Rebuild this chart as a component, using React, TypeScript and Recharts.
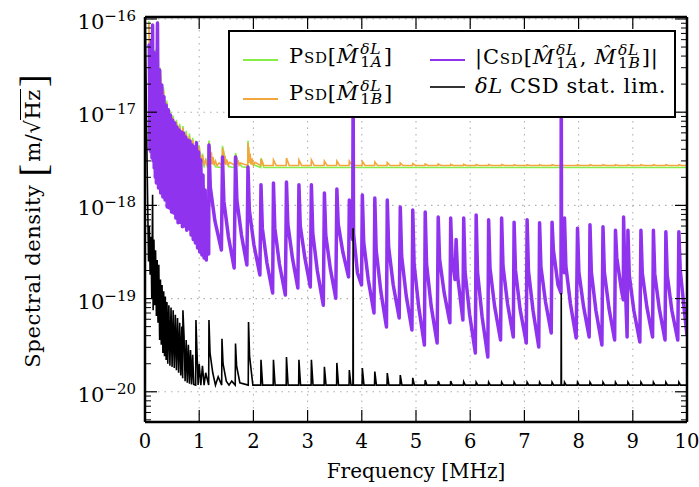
import { LineChart, Line, XAxis, YAxis, CartesianGrid } from 'recharts';

// frequency [MHz], spectral density [m/sqrt(Hz)]
const psdA = [
  [0.07, 9.5e-17], [0.08, 5.8e-17], [0.10, 3.0e-17], [0.13, 6.5e-17], [0.16, 2.7e-17], [0.19, 4.7e-17],
  [0.22, 2.4e-17], [0.235, 9.5e-17], [0.25, 2.1e-17], [0.28, 3.0e-17], [0.31, 1.45e-17], [0.34, 1.85e-17],
  [0.37, 1.0e-17], [0.40, 1.33e-17], [0.43, 7.8e-18], [0.46, 1.04e-17], [0.49, 6.5e-18], [0.52, 9.2e-18],
  [0.55, 5.7e-18], [0.58, 8.3e-18], [0.61, 5.0e-18], [0.64, 7.5e-18], [0.67, 4.6e-18], [0.70, 7.1e-18],
  [0.73, 4.1e-18], [0.76, 6.3e-18], [0.79, 3.6e-18], [0.82, 5.9e-18], [0.85, 3.2e-18], [0.88, 5.3e-18],
  [0.91, 2.6e-18], [0.94, 4.95e-18], [0.97, 2.55e-18], [1.00, 4.45e-18], [1.03, 2.55e-18], [1.06, 3.6e-18],
  [1.09, 2.55e-18], [1.12, 3.2e-18], [1.15, 2.55e-18], [1.18, 4.95e-18], [1.22, 3.4e-18], [1.30, 2.6e-18],
  [1.425, 2.55e-18], [1.43, 4.35e-18], [1.47, 3.3e-18], [1.55, 2.6e-18], [1.665, 2.55e-18], [1.67, 3.65e-18],
  [1.71, 3.0e-18], [1.79, 2.6e-18], [1.895, 2.55e-18], [1.90, 4.95e-18], [1.915, 3.4e-18], [1.96, 2.8e-18],
  [2.135, 2.55e-18], [2.14, 3.2e-18], [2.19, 2.55e-18], [10.0, 2.55e-18],
];

const psdB = [
  [0.07, 9.0e-17], [0.08, 5.5e-17], [0.10, 2.84e-17], [0.13, 6.2e-17], [0.16, 2.51e-17], [0.19, 4.4e-17],
  [0.22, 2.22e-17], [0.235, 9.06e-17], [0.25, 1.96e-17], [0.28, 2.84e-17], [0.31, 1.35e-17], [0.34, 1.73e-17],
  [0.37, 9.3e-18], [0.40, 1.26e-17], [0.43, 7.3e-18], [0.46, 9.8e-18], [0.49, 6.14e-18], [0.52, 8.7e-18],
  [0.55, 5.42e-18], [0.58, 7.85e-18], [0.61, 4.79e-18], [0.64, 7.1e-18], [0.67, 4.45e-18], [0.70, 6.76e-18],
  [0.73, 3.93e-18], [0.76, 5.98e-18], [0.79, 3.47e-18], [0.82, 5.55e-18], [0.85, 3.07e-18], [0.88, 5.03e-18],
  [0.91, 2.68e-18], [0.94, 4.68e-18], [0.97, 2.68e-18], [1.00, 4.24e-18], [1.03, 2.68e-18], [1.06, 3.47e-18],
  [1.09, 2.68e-18], [1.12, 3.07e-18], [1.15, 2.68e-18], [1.175, 2.68e-18],
  [1.18, 4.68e-18], [1.19, 3.0e-18], [1.20, 4.2e-18], [1.21, 2.8e-18], [1.225, 3.7e-18], [1.24, 2.75e-18],
  [1.255, 3.3e-18], [1.275, 2.7e-18], [1.30, 3.0e-18], [1.33, 2.68e-18], [1.37, 2.85e-18], [1.425, 2.68e-18],
  [1.43, 4.13e-18], [1.44, 2.9e-18], [1.45, 3.8e-18], [1.46, 2.8e-18], [1.475, 3.4e-18], [1.49, 2.72e-18],
  [1.51, 3.1e-18], [1.535, 2.7e-18], [1.56, 2.9e-18], [1.665, 2.68e-18],
  [1.67, 3.47e-18], [1.68, 2.85e-18], [1.69, 3.25e-18], [1.70, 2.75e-18], [1.715, 3.05e-18], [1.735, 2.7e-18],
  [1.76, 2.85e-18], [1.895, 2.68e-18],
  [1.90, 4.68e-18], [1.91, 3.0e-18], [1.915, 4.2e-18], [1.925, 2.85e-18], [1.94, 3.6e-18], [1.955, 2.75e-18],
  [1.975, 3.2e-18], [2.0, 2.7e-18], [2.03, 2.9e-18], [2.135, 2.68e-18],
  [2.14, 3.15e-18], [2.15, 2.8e-18], [2.16, 3.0e-18], [2.19, 2.68e-18],
  [2.365, 2.68e-18], [2.37, 3.07e-18], [2.42, 2.68e-18], [2.605, 2.68e-18], [2.61, 3.23e-18], [2.66, 2.68e-18],
  [2.835, 2.68e-18], [2.84, 3.07e-18], [2.89, 2.68e-18], [3.065, 2.68e-18], [3.07, 3.07e-18], [3.12, 2.68e-18],
  [3.305, 2.68e-18], [3.31, 2.99e-18], [3.36, 2.68e-18], [3.535, 2.68e-18], [3.54, 2.99e-18], [3.59, 2.68e-18],
  [3.765, 2.68e-18], [3.77, 2.99e-18], [3.82, 2.68e-18], [3.835, 2.68e-18], [3.84, 3.03e-18], [3.87, 2.68e-18],
  [4.005, 2.68e-18], [4.01, 2.96e-18], [4.06, 2.68e-18], [4.235, 2.68e-18], [4.24, 2.92e-18], [4.29, 2.68e-18],
  [4.465, 2.68e-18], [4.47, 2.88e-18], [4.52, 2.68e-18], [4.705, 2.68e-18], [4.71, 2.85e-18], [4.76, 2.68e-18],
  [4.935, 2.68e-18], [4.94, 2.81e-18], [4.99, 2.68e-18], [5.165, 2.68e-18], [5.17, 2.78e-18], [5.22, 2.68e-18],
  [5.405, 2.68e-18], [5.41, 2.78e-18], [5.46, 2.68e-18], [5.635, 2.68e-18], [5.64, 2.75e-18], [5.69, 2.68e-18],
  [5.875, 2.68e-18], [5.88, 2.75e-18], [5.93, 2.68e-18], [6.105, 2.68e-18], [6.11, 2.74e-18], [6.16, 2.68e-18],
  [6.335, 2.68e-18], [6.34, 2.74e-18], [6.39, 2.68e-18], [6.575, 2.68e-18], [6.58, 2.74e-18], [6.63, 2.68e-18],
  [6.805, 2.68e-18], [6.81, 2.73e-18], [6.86, 2.68e-18], [7.045, 2.68e-18], [7.05, 2.73e-18], [7.10, 2.68e-18],
  [7.275, 2.68e-18], [7.28, 2.73e-18], [7.33, 2.68e-18], [7.505, 2.68e-18], [7.51, 2.73e-18], [7.56, 2.68e-18],
  [7.675, 2.68e-18], [7.68, 2.78e-18], [7.72, 2.68e-18], [7.975, 2.68e-18], [7.98, 2.73e-18], [8.03, 2.68e-18],
  [8.205, 2.68e-18], [8.21, 2.73e-18], [8.26, 2.68e-18], [8.445, 2.68e-18], [8.45, 2.73e-18], [8.50, 2.68e-18],
  [8.675, 2.68e-18], [8.68, 2.73e-18], [8.73, 2.68e-18], [8.905, 2.68e-18], [8.91, 2.73e-18], [8.96, 2.68e-18],
  [9.145, 2.68e-18], [9.15, 2.73e-18], [9.20, 2.68e-18], [9.375, 2.68e-18], [9.38, 2.73e-18], [9.43, 2.68e-18],
  [9.605, 2.68e-18], [9.61, 2.73e-18], [9.66, 2.68e-18], [9.845, 2.68e-18], [9.85, 2.73e-18], [9.90, 2.68e-18],
  [10.0, 2.68e-18],
];

const csdAB = [
  [0.07, 5.0e-17], [0.08, 5.26e-17], [0.09, 3.93e-18], [0.10, 4.65e-17], [0.11, 3.74e-18], [0.12, 5.96e-17],
  [0.13, 3.23e-18], [0.14, 8.6e-17], [0.15, 3.0e-18], [0.16, 4.4e-17], [0.17, 2.52e-18], [0.18, 4.11e-17],
  [0.19, 2.0e-18], [0.20, 3.7e-17], [0.21, 1.74e-18], [0.225, 4.0e-17], [0.23, 9.06e-17], [0.235, 3.0e-17],
  [0.25, 1.54e-18], [0.27, 2.84e-17], [0.29, 1.36e-18], [0.31, 1.96e-17], [0.33, 1.23e-18], [0.35, 1.46e-17],
  [0.37, 1.14e-18], [0.39, 1.19e-17], [0.41, 9.6e-19], [0.43, 1.06e-17], [0.45, 9.4e-19], [0.47, 9.3e-18],
  [0.49, 8.5e-19], [0.51, 8.2e-18], [0.53, 8.3e-19], [0.55, 7.66e-18], [0.57, 7.3e-19], [0.59, 6.93e-18],
  [0.61, 6.5e-19], [0.63, 6.44e-18], [0.65, 6.6e-19], [0.67, 6.14e-18], [0.69, 5.9e-19], [0.71, 5.98e-18],
  [0.73, 6.0e-19], [0.75, 5.42e-18], [0.77, 5.4e-19], [0.79, 5.03e-18], [0.81, 5.6e-19], [0.83, 4.91e-18],
  [0.85, 4.8e-19], [0.87, 4.45e-18], [0.89, 4.3e-19], [0.91, 4.24e-18], [0.93, 3.95e-19], [0.95, 4.7e-18],
  [0.97, 3.49e-19], [0.99, 3.74e-18], [1.01, 3.16e-19], [1.03, 3.07e-18], [1.05, 2.94e-19], [1.07, 2.12e-18],
  [1.09, 2.73e-19], [1.11, 1.46e-18], [1.13, 2.59e-19], [1.155, 6.0e-19], [1.175, 3.0e-19],
  [1.18, 4.45e-18], [1.205, 1.57e-18], [1.29, 6.8e-19], [1.41, 3.32e-19],
  [1.43, 3.3e-18], [1.455, 1.11e-18], [1.54, 4.58e-19], [1.645, 2.13e-19],
  [1.67, 3.3e-18], [1.695, 1.14e-18], [1.78, 4.8e-19], [1.88, 2.29e-19],
  [1.90, 2.58e-18], [1.925, 8.9e-19], [2.01, 3.76e-19], [2.12, 1.79e-19],
  [2.14, 1.66e-18], [2.165, 5.7e-19], [2.25, 2.41e-19], [2.355, 1.15e-19],
  [2.37, 1.74e-18], [2.395, 5.7e-19], [2.48, 2.35e-19], [2.59, 1.09e-19],
  [2.61, 1.78e-18], [2.635, 6.3e-19], [2.72, 2.73e-19], [2.82, 1.30e-19],
  [2.84, 1.66e-18], [2.865, 6.0e-19], [2.95, 2.73e-19], [3.05, 1.33e-19],
  [3.07, 1.66e-18], [3.095, 5.06e-19], [3.18, 1.98e-19], [3.29, 8.5e-20],
  [3.31, 1.36e-18], [3.335, 4.8e-19], [3.42, 2.08e-19], [3.52, 1.01e-19],
  [3.54, 1.50e-18], [3.565, 6.3e-19], [3.65, 3.16e-19], [3.755, 1.71e-19],
  [3.77, 1.14e-18], [3.795, 6.2e-19], [3.832, 4.3e-19], [3.84, 2.0e-17], [3.848, 5.0e-19], [3.92, 1.88e-19],
  [3.995, 1.40e-19],
  [4.01, 1.29e-18], [4.035, 4.05e-19], [4.12, 1.58e-19], [4.225, 7.0e-20],
  [4.24, 1.20e-18], [4.265, 3.32e-19], [4.35, 1.21e-19], [4.455, 4.95e-20],
  [4.47, 1.14e-18], [4.495, 3.58e-19], [4.58, 1.40e-19], [4.69, 6.2e-20],
  [4.71, 9.6e-19], [4.735, 2.86e-19], [4.82, 1.07e-19], [4.925, 4.6e-20],
  [4.94, 8.9e-19], [4.965, 2.35e-19], [5.05, 8.1e-20], [5.155, 3.18e-20],
  [5.17, 8.5e-19], [5.195, 2.35e-19], [5.28, 8.3e-20], [5.39, 3.34e-20],
  [5.41, 7.5e-19], [5.435, 2.66e-19], [5.52, 1.15e-19], [5.625, 5.5e-20],
  [5.64, 7.3e-19], [5.665, 2.66e-19], [5.72, 1.6e-19], [5.74, 4.3e-19], [5.77, 1.7e-19], [5.865, 5.9e-20],
  [5.88, 7.3e-19], [5.905, 1.93e-19], [5.99, 6.7e-20], [6.095, 2.61e-20],
  [6.11, 7.9e-19], [6.135, 1.93e-19], [6.22, 6.35e-20], [6.325, 2.36e-20],
  [6.34, 7.0e-19], [6.365, 2.13e-19], [6.45, 8.3e-20], [6.56, 3.59e-20],
  [6.58, 7.3e-19], [6.605, 2.24e-19], [6.69, 8.75e-20], [6.795, 3.87e-20],
  [6.81, 6.6e-19], [6.835, 2.03e-19], [6.92, 7.7e-20], [7.035, 3.34e-20],
  [7.05, 7.0e-19], [7.075, 1.98e-19], [7.16, 7.4e-20], [7.265, 3.03e-20],
  [7.28, 6.5e-19], [7.305, 2.18e-19], [7.39, 9.2e-20], [7.495, 4.27e-20],
  [7.51, 6.6e-19], [7.535, 3.32e-19], [7.62, 1.40e-19], [7.675, 1.15e-19], [7.68, 3.0e-17], [7.686, 2.59e-19],
  [7.735, 1.9e-19],
  [7.74, 7.3e-19], [7.765, 2.24e-19], [7.85, 8.75e-20], [7.955, 3.77e-20],
  [7.98, 5.7e-19], [8.005, 1.93e-19], [8.09, 8.3e-20], [8.195, 3.87e-20],
  [8.21, 6.2e-19], [8.235, 1.93e-19], [8.32, 7.4e-20], [8.43, 3.18e-20],
  [8.45, 5.9e-19], [8.475, 1.93e-19], [8.56, 7.9e-20], [8.665, 3.59e-20],
  [8.68, 5.4e-19], [8.705, 2.73e-19], [8.79, 1.24e-19], [8.825, 9.7e-20], [8.83, 7.5e-19], [8.85, 2.29e-19],
  [8.895, 3.87e-20],
  [8.91, 5.4e-19], [8.935, 1.79e-19], [9.02, 7.4e-20], [9.13, 3.42e-20],
  [9.15, 5.4e-19], [9.175, 1.88e-19], [9.26, 8.1e-20], [9.365, 3.87e-20],
  [9.38, 5.4e-19], [9.405, 1.84e-19], [9.49, 7.7e-20], [9.595, 3.59e-20],
  [9.61, 5.2e-19], [9.635, 1.79e-19], [9.72, 7.5e-20], [9.83, 3.59e-20],
  [9.85, 5.2e-19], [9.875, 2.03e-19], [9.95, 7.5e-20], [10.0, 4.07e-20],
];

const statLim = [
  [0.005, 1.0e-16], [0.02, 2.0e-17], [0.035, 4.0e-18], [0.05, 1.0e-18], [0.065, 2.5e-19], [0.08, 6.0e-19],
  [0.095, 1.8e-19], [0.11, 4.6e-19], [0.125, 1.0e-19], [0.14, 1.3e-18], [0.15, 7.5e-20], [0.165, 4.3e-19],
  [0.18, 8.5e-20], [0.195, 3.3e-19], [0.21, 6.5e-20], [0.225, 2.6e-19], [0.24, 5.5e-20], [0.255, 2.3e-19],
  [0.27, 3.6e-20], [0.285, 1.6e-19], [0.30, 3.2e-20], [0.315, 1.4e-19], [0.33, 2.6e-20], [0.345, 1.2e-19],
  [0.36, 2.4e-20], [0.375, 1.05e-19], [0.39, 2.2e-20], [0.405, 9.2e-20], [0.42, 2.0e-20], [0.44, 8.5e-20],
  [0.46, 1.9e-20], [0.48, 8.0e-20], [0.50, 1.85e-20], [0.52, 7.5e-20], [0.54, 1.8e-20], [0.56, 6.7e-20],
  [0.58, 1.7e-20], [0.60, 6.2e-20], [0.62, 1.6e-20], [0.64, 5.5e-20], [0.66, 1.5e-20], [0.68, 5.0e-20],
  [0.695, 1.4e-20], [0.70, 7.5e-20], [0.72, 4.0e-20], [0.74, 1.3e-20], [0.76, 3.6e-20], [0.78, 1.25e-20],
  [0.80, 3.2e-20], [0.82, 1.22e-20], [0.84, 2.8e-20], [0.86, 1.2e-20], [0.88, 2.5e-20], [0.90, 1.2e-20],
  [0.935, 1.18e-20], [0.94, 5.9e-20], [0.96, 2.6e-20], [0.98, 1.18e-20], [1.00, 2.0e-20], [1.03, 1.18e-20],
  [1.06, 1.9e-20], [1.09, 1.18e-20], [1.12, 1.6e-20], [1.175, 1.18e-20], [1.18, 5.9e-20], [1.20, 2.6e-20],
  [1.25, 1.6e-20], [1.30, 1.18e-20], [1.35, 1.45e-20], [1.415, 1.18e-20], [1.42, 3.7e-20], [1.44, 2.0e-20],
  [1.50, 1.3e-20], [1.55, 1.18e-20], [1.60, 1.3e-20], [1.665, 1.18e-20], [1.67, 3.3e-20], [1.69, 1.9e-20],
  [1.75, 1.25e-20], [1.905, 1.18e-20], [1.91, 5.6e-20], [1.93, 2.4e-20], [1.99, 1.18e-20],
  [2.135, 1.18e-20], [2.14, 2.2e-20], [2.17, 1.18e-20], [2.365, 1.18e-20], [2.37, 2.2e-20], [2.40, 1.18e-20],
  [2.605, 1.18e-20], [2.61, 2.36e-20], [2.64, 1.18e-20], [2.835, 1.18e-20], [2.84, 2.2e-20], [2.87, 1.18e-20],
  [3.065, 1.18e-20], [3.07, 2.2e-20], [3.10, 1.18e-20], [3.305, 1.18e-20], [3.31, 1.85e-20], [3.34, 1.18e-20],
  [3.535, 1.18e-20], [3.54, 2.04e-20], [3.57, 1.18e-20], [3.765, 1.18e-20], [3.77, 1.71e-20], [3.80, 1.18e-20],
  [3.836, 1.18e-20], [3.84, 5.7e-19], [3.844, 1.18e-20],
  [4.005, 1.18e-20], [4.01, 1.8e-20], [4.04, 1.18e-20], [4.235, 1.18e-20], [4.24, 1.65e-20], [4.27, 1.18e-20],
  [4.465, 1.18e-20], [4.47, 1.59e-20], [4.50, 1.18e-20], [4.705, 1.18e-20], [4.71, 1.51e-20], [4.74, 1.18e-20],
  [4.935, 1.18e-20], [4.94, 1.41e-20], [4.97, 1.18e-20], [5.165, 1.18e-20], [5.17, 1.34e-20], [5.20, 1.18e-20],
  [5.405, 1.18e-20], [5.41, 1.3e-20], [5.44, 1.18e-20], [5.635, 1.18e-20], [5.64, 1.3e-20], [5.67, 1.18e-20],
  [5.875, 1.18e-20], [5.88, 1.28e-20], [5.91, 1.18e-20], [6.105, 1.18e-20], [6.11, 1.27e-20], [6.14, 1.18e-20],
  [6.335, 1.18e-20], [6.34, 1.27e-20], [6.37, 1.18e-20], [6.575, 1.18e-20], [6.58, 1.27e-20], [6.61, 1.18e-20],
  [6.805, 1.18e-20], [6.81, 1.27e-20], [6.84, 1.18e-20], [7.045, 1.18e-20], [7.05, 1.27e-20], [7.08, 1.18e-20],
  [7.275, 1.18e-20], [7.28, 1.27e-20], [7.31, 1.18e-20], [7.505, 1.18e-20], [7.51, 1.27e-20], [7.54, 1.18e-20],
  [7.676, 1.18e-20], [7.68, 1.15e-19], [7.684, 1.18e-20], [7.735, 1.18e-20], [7.74, 1.27e-20], [7.77, 1.18e-20],
  [7.975, 1.18e-20], [7.98, 1.27e-20], [8.01, 1.18e-20], [8.205, 1.18e-20], [8.21, 1.27e-20], [8.24, 1.18e-20],
  [8.445, 1.18e-20], [8.45, 1.27e-20], [8.48, 1.18e-20], [8.675, 1.18e-20], [8.68, 1.27e-20], [8.71, 1.18e-20],
  [8.905, 1.18e-20], [8.91, 1.27e-20], [8.94, 1.18e-20], [9.145, 1.18e-20], [9.15, 1.27e-20], [9.18, 1.18e-20],
  [9.375, 1.18e-20], [9.38, 1.27e-20], [9.41, 1.18e-20], [9.605, 1.18e-20], [9.61, 1.27e-20], [9.64, 1.18e-20],
  [9.845, 1.18e-20], [9.85, 1.27e-20], [9.88, 1.18e-20], [10.0, 1.18e-20],
];

const freqTicks = [0, 1, 2, 3, 4, 5, 6, 7, 8, 9, 10];
const gridFreqs = [1, 2, 3, 4, 5, 6, 7, 8, 9];
const decadeTicks = [1e-20, 1e-19, 1e-18, 1e-17, 1e-16];
const minorSteps = [2, 3, 4, 5, 6, 7, 8, 9];
const minorDecades = [1e-21, 1e-20, 1e-19, 1e-18, 1e-17];

const Y_MIN = 4.74e-21;
const Y_MAX = 1.05e-16;
const SERIF = '"DejaVu Serif", serif';
const COLORS = { a: '#86ee46', b: '#f2a63c', csd: '#9033ee', lim: '#000000' };

const minorTicks = minorDecades
  .flatMap((d) => minorSteps.map((m) => m * d))
  .filter((v) => v >= Y_MIN && v <= Y_MAX);
const yTicks = [...decadeTicks, ...minorTicks].sort((a, b) => a - b);

const rows = (pts: number[][]) => pts.map(([f, v]) => ({ f, v }));

const isMajor = (v: number) => Math.abs(Math.log10(v) - Math.round(Math.log10(v))) < 1e-6;

function LeftTick({ x, y, payload }: any) {
  const v = payload.value;
  if (!isMajor(v)) return <line x1={x} x2={x + 6} y1={y} y2={y} stroke="#000" strokeWidth={1} />;
  const exp = Math.round(Math.log10(v));
  return (
    <g>
      <line x1={x} x2={x + 12} y1={y} y2={y} stroke="#000" strokeWidth={1.2} />
      <text x={x - 9} y={y + 10} textAnchor="end" fontFamily={SERIF} fontSize={21} fill="#000">
        10
        <tspan dy={-8} fontSize={15}>{'\u2212' + Math.abs(exp)}</tspan>
      </text>
    </g>
  );
}

function RightTick({ x, y, payload }: any) {
  const major = isMajor(payload.value);
  return <line x1={x} x2={x - (major ? 12 : 6)} y1={y} y2={y} stroke="#000" strokeWidth={major ? 1.2 : 1} />;
}

function BottomTick({ x, y, payload }: any) {
  return (
    <g>
      <line x1={x} x2={x} y1={y} y2={y - 12} stroke="#000" strokeWidth={1.2} />
      <text x={x} y={y + 26} textAnchor="middle" fontFamily={SERIF} fontSize={19.5} fill="#000">
        {payload.value}
      </text>
    </g>
  );
}

function TopTick({ x, y }: any) {
  return <line x1={x} x2={x} y1={y} y2={y + 12} stroke="#000" strokeWidth={1.2} />;
}

const M = () => <i>M&#770;</i>;

function Scripts({ sub }: { sub: string }) {
  return (
    <span style={{ display: 'inline-flex', flexDirection: 'column', fontSize: 15.5, lineHeight: '13px', verticalAlign: 9, marginLeft: 1, marginRight: 1, marginTop: -20, marginBottom: -20 }}>
      <span><i>&delta;L</i></span>
      <span>1<i>{sub}</i></span>
    </span>
  );
}

function LegendBox() {
  const txt = { position: 'absolute' as const, fontFamily: SERIF, fontSize: 21, lineHeight: '24px', letterSpacing: 0.8, whiteSpace: 'nowrap' as const };
  const sample = (left: number, top: number, color: string) => (
    <div style={{ position: 'absolute', left, top, width: 35, height: 2, background: color }} />
  );
  return (
    <div style={{ position: 'absolute', left: 228, top: 30, width: 448, height: 88, border: '2px solid #000', boxSizing: 'border-box', background: '#fff' }}>
      {sample(13, 27, COLORS.a)}
      {sample(13, 66, COLORS.b)}
      {sample(200, 27, COLORS.csd)}
      {sample(200, 54, '#333')}
      <div style={{ ...txt, left: 59, top: 12 }}>
        <span style={{ fontVariant: 'small-caps' }}>Psd</span>[<M /><Scripts sub="A" />]
      </div>
      <div style={{ ...txt, left: 59, top: 49 }}>
        <span style={{ fontVariant: 'small-caps' }}>Psd</span>[<M /><Scripts sub="B" />]
      </div>
      <div style={{ ...txt, left: 245, top: 13 }}>
        |<span style={{ fontVariant: 'small-caps' }}>Csd</span>[<M /><Scripts sub="A" />, <M /><Scripts sub="B" />]|
      </div>
      <div style={{ ...txt, left: 245, top: 42, letterSpacing: 0.6 }}>
        <i>&delta;L</i> CSD stat. lim.
      </div>
    </div>
  );
}

function YLabel() {
  const bracket = { fontFamily: '"Liberation Serif", serif', fontSize: 38, lineHeight: '38px', letterSpacing: 0 };
  return (
    <div style={{ position: 'absolute', left: 33 - 170, top: 221 - 25, width: 340, height: 50, display: 'flex', alignItems: 'center', justifyContent: 'center', transform: 'rotate(-90deg)', fontFamily: SERIF, fontSize: 21, letterSpacing: 0.6, whiteSpace: 'nowrap' }}>
      <span style={{ marginRight: 8 }}>Spectral density</span>
      <span style={bracket}>[</span>
      <span style={{ margin: '0 2px' }}>m/&radic;<span style={{ borderTop: '1.3px solid #000', lineHeight: '21px' }}>Hz</span></span>
      <span style={bracket}>]</span>
    </div>
  );
}

export default function App() {
  const axisLine = { stroke: '#000', strokeWidth: 2.5 };
  const yCommon = {
    type: 'number' as const, scale: 'log' as const, domain: [Y_MIN, Y_MAX], allowDataOverflow: true,
    ticks: yTicks, interval: 0, tickLine: false, tickSize: 0, tickMargin: 0, axisLine,
  };
  const xCommon = {
    type: 'number' as const, dataKey: 'f', domain: [0, 10], allowDataOverflow: true,
    ticks: freqTicks, interval: 0, tickLine: false, tickSize: 0, tickMargin: 0, axisLine,
  };
  return (
    <div style={{ position: 'absolute', left: 0, top: 0, width: 699, height: 487, background: '#fff' }}>
      <LineChart width={699} height={487} margin={{ top: 16, right: 11, bottom: 5, left: 8 }}>
        <CartesianGrid stroke="#b0b0b0" strokeWidth={1.1} strokeDasharray="1.5 5" horizontalValues={decadeTicks} verticalValues={gridFreqs} />
        <XAxis {...xCommon} height={60} tick={<BottomTick />} />
        <XAxis {...xCommon} xAxisId="top" orientation="top" height={1} tick={<TopTick />} />
        <YAxis {...yCommon} width={137} tick={<LeftTick />} />
        <YAxis {...yCommon} yAxisId="right" orientation="right" width={1} tick={<RightTick />} />
        <Line data={rows(psdA)} dataKey="v" stroke={COLORS.a} strokeWidth={1.6} dot={false} isAnimationActive={false} />
        <Line data={rows(psdB)} dataKey="v" stroke={COLORS.b} strokeWidth={1.6} dot={false} isAnimationActive={false} />
        <Line data={rows(csdAB)} dataKey="v" stroke={COLORS.csd} strokeWidth={3.5} dot={false} isAnimationActive={false} strokeLinejoin="round" />
        <Line data={rows(statLim)} dataKey="v" stroke={COLORS.lim} strokeWidth={1.6} dot={false} isAnimationActive={false} />
      </LineChart>
      <YLabel />
      <div style={{ position: 'absolute', left: 216, top: 459, width: 400, textAlign: 'center', fontFamily: SERIF, fontSize: 20, lineHeight: '24px' }}>
        Frequency [MHz]
      </div>
      <LegendBox />
    </div>
  );
}
